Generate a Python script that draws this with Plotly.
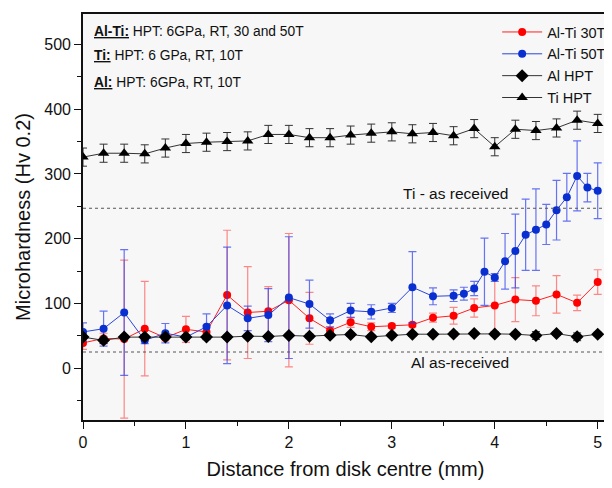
import plotly.graph_objects as go

# ---------------- data ----------------
x_step02 = [0.0, 0.2, 0.4, 0.6, 0.8, 1.0, 1.2, 1.4, 1.6, 1.8, 2.0, 2.2, 2.4,
            2.6, 2.8, 3.0, 3.2, 3.4, 3.6, 3.8, 4.0, 4.2, 4.4, 4.6, 4.8, 5.0]

alti30_y = [39, 46, 45, 61, 47, 60, 56, 113, 86, 88, 105, 77, 58,
            71, 64, 65, 67, 78, 81, 93, 97, 106, 104, 114, 101, 133]
alti30_err = [10, 8, 122, 73, 5, 20, 10, 100, 71, 38, 103, 40, 5,
              8, 6, 3, 3, 7, 13, 14, 41, 34, 23, 29, 12, 19]

alti50_x = [0.0, 0.2, 0.4, 0.6, 0.8, 1.0, 1.2, 1.4, 1.6, 1.8, 2.0, 2.2, 2.4,
            2.6, 2.8, 3.0, 3.2, 3.4, 3.6, 3.7, 3.8, 3.9, 4.0, 4.1, 4.2, 4.3,
            4.4, 4.5, 4.6, 4.7, 4.8, 4.9, 5.0]
alti50_y = [56, 61, 86, 43, 54, 48, 64, 97, 77, 82, 109, 99, 74,
            89, 87, 93, 125, 111, 112, 115, 123, 149, 140, 165, 181, 206,
            214, 222, 244, 264, 297, 279, 274]
alti50_err = [14, 27, 97, 5, 15, 4, 20, 90, 19, 41, 94, 37, 10,
              11, 11, 7, 55, 13, 9, 10, 11, 52, 6, 43, 57, 55,
              63, 31, 46, 37, 54, 22, 43]

al_y = [48, 43, 48, 48, 48, 48, 48, 48, 49.5, 49, 50.5, 49.5, 51,
        52, 48.5, 51, 52.5, 52.5, 53, 53.5, 53, 52.5, 50.5, 53.5, 48.5, 52.5]
al_err = [3, 5, 3, 3, 3, 3, 3, 3, 3, 3, 3, 3, 3,
          3, 3, 3, 3, 3, 3, 3, 3, 3, 6, 3, 6, 3]

ti_y = [326, 332, 332, 331, 340, 347, 349, 350, 351, 361, 361, 356, 356,
        360, 363, 365, 362, 364, 359, 370, 342, 369, 367, 371, 383, 378]
ti_err = [14] * 26

ti_as_received = 247
al_as_received = 25

FONT = "Liberation Sans, Arial, sans-serif"

fig = go.Figure()

fig.add_trace(go.Scatter(
    x=x_step02, y=alti30_y, name="Al-Ti 30T", mode="lines+markers",
    line=dict(color="#ff2020", width=1),
    marker=dict(symbol="circle", size=8, color="#ff0000"),
    error_y=dict(type="data", array=alti30_err, visible=True,
                 color="rgba(255,60,60,0.6)", thickness=1.2, width=4)))

fig.add_trace(go.Scatter(
    x=alti50_x, y=alti50_y, name="Al-Ti 50T", mode="lines+markers",
    line=dict(color="#2a45d8", width=1),
    marker=dict(symbol="circle", size=8, color="#0a2fd0"),
    error_y=dict(type="data", array=alti50_err, visible=True,
                 color="rgba(40,60,240,0.7)", thickness=1.2, width=4)))

fig.add_trace(go.Scatter(
    x=x_step02, y=al_y, name="Al HPT", mode="lines+markers",
    line=dict(color="#333333", width=1),
    marker=dict(symbol="diamond", size=10, color="#000000"),
    error_y=dict(type="data", array=al_err, visible=True,
                 color="#333333", thickness=1, width=4)))

fig.add_trace(go.Scatter(
    x=x_step02, y=ti_y, name="Ti HPT", mode="lines+markers",
    line=dict(color="#333333", width=1),
    marker=dict(symbol="triangle-up", size=10, color="#000000"),
    error_y=dict(type="data", array=ti_err, visible=True,
                 color="#333333", thickness=1, width=4)))

# reference lines
for yv in (ti_as_received, al_as_received):
    fig.add_shape(type="line", xref="paper", x0=0, x1=1, yref="y", y0=yv, y1=yv,
                  line=dict(color="#555555", width=1, dash="dot"))

fig.add_annotation(x=3.62, y=ti_as_received, yshift=4, text="Ti - as received",
                   showarrow=False, font=dict(family=FONT, size=15.5, color="#111"),
                   xanchor="center", yanchor="bottom")
fig.add_annotation(x=3.66, y=al_as_received, yshift=0, text="Al as-received",
                   showarrow=False, font=dict(family=FONT, size=15.5, color="#111"),
                   xanchor="center", yanchor="top")

notes = ["<u><b>Al-Ti:</b></u> HPT: 6GPa, RT, 30 and 50T",
         "<u><b>Ti:</b></u> HPT: 6 GPa, RT, 10T",
         "<u><b>Al:</b></u> HPT: 6GPa, RT, 10T"]
note_y = [0.957, 0.898, 0.832]
for t, yy in zip(notes, note_y):
    fig.add_annotation(xref="paper", yref="paper", x=0.018, y=yy, text=t,
                       showarrow=False, xanchor="left", yanchor="middle",
                       font=dict(family=FONT, size=13.8, color="#111"))

axis_common = dict(showline=True, linecolor="#111", linewidth=1.6, mirror=True,
                   showgrid=False, zeroline=False, ticks="outside", ticklen=7,
                   tickwidth=1.4, tickcolor="#111",
                   tickfont=dict(family=FONT, size=16, color="#111"))

fig.update_xaxes(range=[0, 5.1], dtick=1, tick0=0,
                 minor=dict(dtick=0.5, ticks="outside", ticklen=4, tickwidth=1.2, tickcolor="#111"),
                 title=dict(text="Distance from disk centre (mm)",
                            font=dict(family=FONT, size=20, color="#111"), standoff=12),
                 **axis_common)
fig.update_yaxes(range=[-80, 547], dtick=100, tick0=0,
                 minor=dict(dtick=50, ticks="outside", ticklen=4, tickwidth=1.2, tickcolor="#111"),
                 title=dict(text="Microhardness (Hv 0.2)",
                            font=dict(family=FONT, size=20, color="#111"), standoff=8),
                 **axis_common)

# The page body adds an 8px margin; the figure is sized so that the whole
# page fits the 612x488 window and the plot area lands where the reference has it.
fig.update_layout(
    width=604, height=472,
    margin=dict(l=75, r=1, t=6, b=60),
    paper_bgcolor="white", plot_bgcolor="#f7f7f7",
    font=dict(family=FONT, color="#111"),
    legend=dict(x=1.006, y=0.995, xanchor="right", yanchor="top",
                bgcolor="rgba(0,0,0,0)", font=dict(family=FONT, size=14.5, color="#111"),
                itemwidth=40),
    showlegend=True,
)

fig.write_html("out.html")
